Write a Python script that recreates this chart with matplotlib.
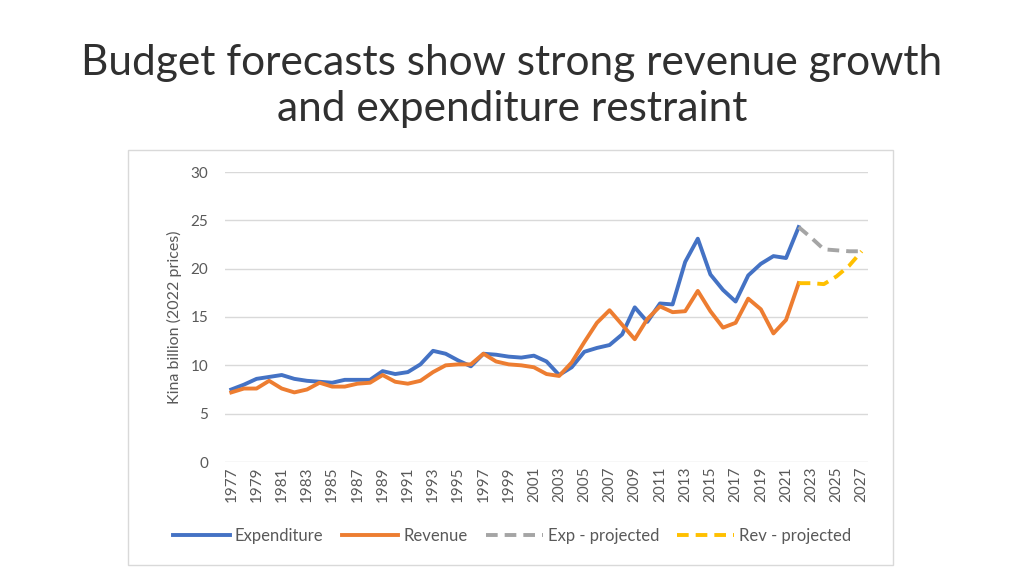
import numpy as np
import matplotlib
matplotlib.use("Agg")
import matplotlib.pyplot as plt
import matplotlib.patches as patches

plt.rcParams['font.family'] = ['Lato', 'DejaVu Sans']

# Historical values, Kina billion (2022 prices)
years = np.arange(1977, 2023)
expenditure = [7.5, 8.0, 8.6, 8.8, 9.0, 8.6, 8.4, 8.3, 8.2, 8.5,
               8.5, 8.5, 9.4, 9.1, 9.3, 10.1, 11.5, 11.2, 10.5, 9.9,
               11.2, 11.1, 10.9, 10.8, 11.0, 10.4, 9.0, 9.8, 11.4, 11.8,
               12.1, 13.2, 16.0, 14.5, 16.4, 16.3, 20.7, 23.1, 19.4, 17.8,
               16.6, 19.3, 20.5, 21.3, 21.1, 24.3]
revenue = [7.2, 7.6, 7.6, 8.4, 7.6, 7.2, 7.5, 8.2, 7.8, 7.8,
           8.1, 8.2, 9.0, 8.3, 8.1, 8.4, 9.3, 10.0, 10.1, 10.1,
           11.2, 10.4, 10.1, 10.0, 9.8, 9.1, 8.9, 10.3, 12.4, 14.4,
           15.7, 14.2, 12.7, 14.8, 16.1, 15.5, 15.6, 17.7, 15.6, 13.9,
           14.4, 16.9, 15.8, 13.3, 14.7, 18.5]

# Projections
proj_years = np.arange(2022, 2028)
exp_projected = [24.3, 23.2, 22.0, 21.9, 21.8, 21.8]
rev_projected = [18.5, 18.5, 18.4, 19.2, 20.3, 21.8]

c_text = "#595959"

fig = plt.figure(figsize=(10.24, 5.76), dpi=100)
fig.patch.set_facecolor("white")

# chart frame
fig.patches.append(patches.Rectangle((128 / 1024, 1 - 565 / 576), 765 / 1024, 415 / 576,
                                     transform=fig.transFigure, fill=False,
                                     edgecolor="#d9d9d9", linewidth=1))

fig.text(0.5, 1 - 86 / 576, "Budget forecasts show strong revenue growth\nand expenditure restraint",
         ha="center", va="center", fontsize=30.5, color="#303030", linespacing=1.25)

ax = fig.add_axes([225 / 1024, 1 - 462 / 576, 643 / 1024, 290 / 576])
ax.plot(years, expenditure, color="#4472C4", lw=2.8, label="Expenditure", solid_joinstyle="round")
ax.plot(years, revenue, color="#ED7D31", lw=2.8, label="Revenue", solid_joinstyle="round")
ax.plot(proj_years, exp_projected, color="#A5A5A5", lw=2.8, ls=(0, (3, 1.8)), label="Exp - projected")
ax.plot(proj_years, rev_projected, color="#FFC000", lw=2.8, ls=(0, (3, 1.8)), label="Rev - projected")

ax.set_xlim(1976.5, 2027.5)
ax.set_ylim(0, 30)
ax.set_yticks(np.arange(0, 31, 5))
ax.set_xticks(np.arange(1977, 2028, 2))
ax.set_xticklabels([str(y) for y in range(1977, 2028, 2)], rotation=90)
ax.tick_params(axis="both", colors=c_text, labelsize=11, length=0)
ax.tick_params(axis="y", pad=12)
ax.grid(axis="y", color="#d9d9d9", lw=1)
ax.set_axisbelow(True)
for s in ax.spines.values():
    s.set_visible(False)
ax.set_ylabel("Kina billion (2022 prices)", color=c_text, fontsize=11.5, labelpad=6)

ax.legend(loc="center", bbox_to_anchor=(0.5, 1 - 536 / 576), bbox_transform=fig.transFigure,
          ncol=4, frameon=False, fontsize=12, labelcolor=c_text, handlelength=3.4,
          handletextpad=0.3, columnspacing=1.1)

fig.savefig("out.png", dpi=100, facecolor="white")
